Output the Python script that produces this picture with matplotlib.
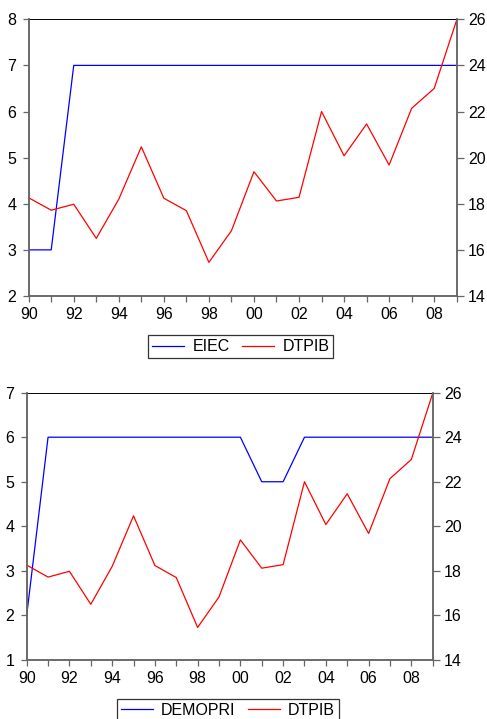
import matplotlib
matplotlib.use("Agg")
import matplotlib.pyplot as plt
import numpy as np

plt.rcParams['font.family'] = ['Liberation Sans', 'DejaVu Sans']

years = list(range(1990, 2010))
tick_years = list(range(1990, 2010, 2))
tick_labels = ["90", "92", "94", "96", "98", "00", "02", "04", "06", "08"]

eiec = [3, 3, 7, 7, 7, 7, 7, 7, 7, 7, 7, 7, 7, 7, 7, 7, 7, 7, 7, 7]
demopri = [2, 6, 6, 6, 6, 6, 6, 6, 6, 6, 6, 5, 5, 6, 6, 6, 6, 6, 6, 6]
dtpib = [18.26, 17.72, 17.98, 16.5, 18.2, 20.47, 18.24, 17.7, 15.46, 16.83,
         19.39, 18.12, 18.28, 22.0, 20.08, 21.46, 19.68, 22.14, 23.0, 25.97]

fig = plt.figure(figsize=(4.87, 7.19), dpi=100)

spine_col = '#666666'
FS = 11.5

def make_panel(rect, left_series, left_name, left_lim, left_ticks, legend_pos, legend_loc):
    ax = fig.add_axes(rect)
    ax2 = ax.twinx()
    l1, = ax.plot(years, left_series, color='#0000ff', lw=0.9)
    l2, = ax2.plot(years, dtpib, color='#ff0000', lw=0.9)
    ax.set_xlim(1990, 2009)
    ax.set_ylim(*left_lim)
    ax.set_yticks(left_ticks)
    ax2.set_ylim(14, 26)
    ax2.set_yticks([14, 16, 18, 20, 22, 24, 26])
    ax.set_xticks(years, minor=False)
    ax.set_xticklabels([tick_labels[tick_years.index(y)] if y in tick_years else "" for y in years])
    for a in (ax, ax2):
        a.tick_params(direction='out', length=4, width=0.9, colors=spine_col, labelcolor='black',
                      labelsize=FS, pad=3)
        for s in a.spines.values():
            s.set_color(spine_col)
            s.set_linewidth(1.1)
        a.spines['top'].set_color('black')
        a.spines['top'].set_linewidth(0.7)
    ax2.spines['top'].set_visible(False)
    ax.tick_params(axis='y', right=False, pad=5)
    ax2.tick_params(axis='y', left=False, length=5, pad=3)
    ax.tick_params(axis='x', pad=4)
    leg = fig.legend([l1, l2], [left_name, 'DTPIB'], loc=legend_loc, bbox_to_anchor=legend_pos,
                     ncol=2, frameon=True, fancybox=False, edgecolor='black', fontsize=FS,
                     handlelength=2.0, columnspacing=0.8, handletextpad=0.5, borderpad=0.25,
                     borderaxespad=0)
    leg.get_frame().set_linewidth(0.9)
    return ax, ax2

make_panel([0.0589, 0.5883, 0.8789, 0.3849], eiec, 'EIEC', (2, 8), [2, 3, 4, 5, 6, 7, 8],
           (0.4945, 0.5178), 'center')
make_panel([0.0548, 0.0821, 0.8337, 0.3718], demopri, 'DEMOPRI', (1, 7), [1, 2, 3, 4, 5, 6, 7],
           (0.468, 0.0278), 'upper center')

fig.savefig('out.png', dpi=100)
